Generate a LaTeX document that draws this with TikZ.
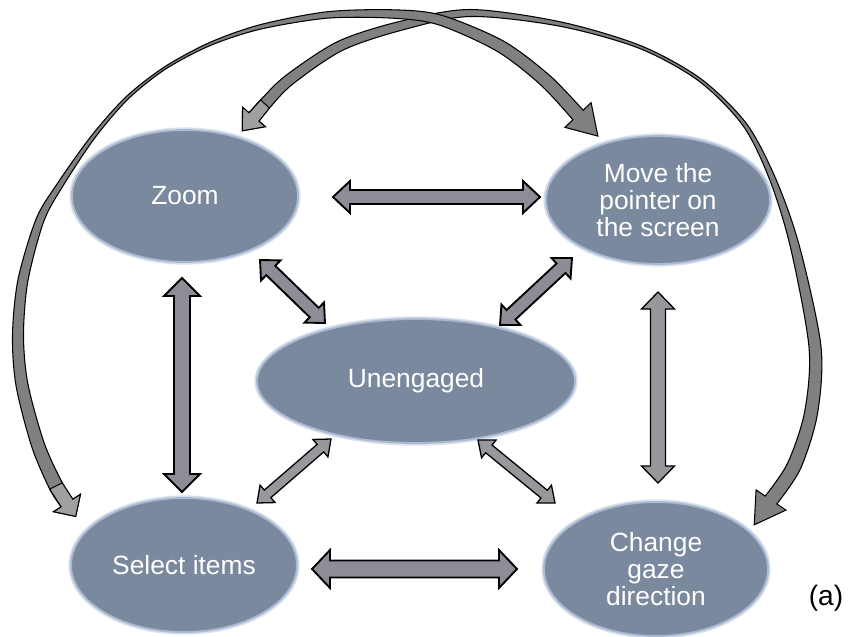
\documentclass[tikz,border=0pt]{standalone}
\usepackage{fontspec}
\setmainfont{Liberation Sans}
\usetikzlibrary{calc,shapes.geometric}
\definecolor{ellfill}{RGB}{123,137,158}
\definecolor{ellrim}{RGB}{170,186,210}
\definecolor{ribfill}{RGB}{128,128,128}
\definecolor{ribhead}{RGB}{160,160,160}
\definecolor{arrfill}{RGB}{142,140,150}
\definecolor{arrlight}{RGB}{152,152,156}
% block double arrow between two named coordinates: #3 head length, #4 shaft half width, #5 head half width (px), #6 style
\newcommand\blockarr[6]{%
  \coordinate (ba-a) at ($(#1)!#3*0.03cm!(#2)$);
  \coordinate (ba-b) at ($(#2)!#3*0.03cm!(#1)$);
  \draw[#6] (#1) -- ($(ba-a)!#5*0.03cm!90:(#2)$) -- ($(ba-a)!#4*0.03cm!90:(#2)$)
    -- ($(ba-b)!#4*0.03cm!-90:(#1)$) -- ($(ba-b)!#5*0.03cm!-90:(#1)$) -- (#2)
    -- ($(ba-b)!#5*0.03cm!90:(#1)$) -- ($(ba-b)!#4*0.03cm!90:(#1)$)
    -- ($(ba-a)!#4*0.03cm!-90:(#2)$) -- ($(ba-a)!#5*0.03cm!-90:(#2)$) -- cycle;}
\begin{document}
\begin{tikzpicture}[x=0.03cm,y=-0.03cm,
  state/.style={ellipse, fill=ellfill, draw=ellrim, line width=1.6pt,
    preaction={draw=ellrim!45!white, line width=4.5pt},
    text=white, align=center, inner sep=0pt,
    font=\fontsize{22.5}{23}\selectfont},
  ribbon/.style={fill=ribfill, draw=black, line width=0.9pt, line join=miter},
  ribbonend/.style={fill=ribhead, draw=black, line width=0.9pt, line join=miter},
  blk/.style={fill=arrfill, draw=black, line width=1.6pt, line join=miter},
  blkthin/.style={fill=arrlight, draw=black, line width=1.1pt, line join=miter}]
\useasboundingbox (0,0) rectangle (853,636);

% ---------- states ----------
\node[state, minimum width=6.78cm, minimum height=3.96cm] (zoom) at (185,196) {Zoom};
\node[state, minimum width=6.72cm, minimum height=3.84cm] (move) at (658,200) {Move the\\pointer on\\the screen};
\node[state, minimum width=9.54cm, minimum height=3.72cm] (unen) at (416,381) {Unengaged};
\node[state, minimum width=6.78cm, minimum height=4.02cm] (sel) at (184,565) {Select items};
\node[state, minimum width=6.72cm, minimum height=4.02cm] (chg) at (656,569) {Change\\gaze\\direction};
\node[font=\fontsize{24}{28}\selectfont] (lbl) at (826,598) {(a)};

% ---------- curved ribbon: Select items <-> Move the pointer ----------
\foreach \i/\x/\y in {0/67/503,1/56/486,2/38/445,3/22/385,4/18/335,5/23/280,6/40/220,
  7/60/185,8/93/137,9/127/98,10/165/68,11/210/44,12/260/27,13/327/15,14/393/14,
  15/440/20,16/500/46,17/545/80,18/578/115}
  \coordinate (q\i) at (\x,\y);
\foreach \i/\w in {1/7,2/6.5,3/6,4/5.5,5/5,6/4,7/3,8/2,9/1.5,10/1.2,11/1.5,12/2.2,
  13/3.2,14/4.2,15/5,16/6,17/6.5}{
  \pgfmathtruncatemacro\iprev{\i-1}
  \pgfmathtruncatemacro\inext{\i+1}
  \coordinate (tmp) at ($(q\i)+(q\inext)-(q\iprev)$);
  \coordinate (qA\i) at ($(q\i)!\w*0.03cm!90:(tmp)$);
  \coordinate (qB\i) at ($(q\i)!\w*0.03cm!-90:(tmp)$);
}
\coordinate (qA0) at ($(q0)!7*0.03cm!90:(q1)$);
\coordinate (qB0) at ($(q0)!7*0.03cm!-90:(q1)$);
\coordinate (qhA0) at ($(q0)!16*0.03cm!90:(q1)$);
\coordinate (qhB0) at ($(q0)!16*0.03cm!-90:(q1)$);
\coordinate (qt0) at ($(q0)!16*0.03cm!180:(q1)$);
\coordinate (qA18) at ($(q18)!7*0.03cm!-90:(q17)$);
\coordinate (qB18) at ($(q18)!7*0.03cm!90:(q17)$);
\coordinate (qhA18) at ($(q18)!18*0.03cm!-90:(q17)$);
\coordinate (qhB18) at ($(q18)!18*0.03cm!90:(q17)$);
\coordinate (qt18) at ($(q18)!29*0.03cm!180:(q17)$);

% ---------- curved ribbon: Zoom <-> Change gaze direction ----------
\foreach \i/\x/\y in {0/254/117,1/265/104,2/289/80,3/340/46,4/400/26,5/470/13,6/560/24,
  7/640/47,8/700/80,9/745/125,10/773/180,11/795/247,12/815/347,13/811/413,14/794/466,15/771/500}
  \coordinate (p\i) at (\x,\y);
\foreach \i/\w in {1/6,2/5.5,3/5,4/4.5,5/3.5,6/2.2,7/1.5,8/1.5,9/2,10/3,11/4.5,12/6,13/6.5,14/7}{
  \pgfmathtruncatemacro\iprev{\i-1}
  \pgfmathtruncatemacro\inext{\i+1}
  \coordinate (tmp) at ($(p\i)+(p\inext)-(p\iprev)$);
  \coordinate (pA\i) at ($(p\i)!\w*0.03cm!90:(tmp)$);
  \coordinate (pB\i) at ($(p\i)!\w*0.03cm!-90:(tmp)$);
}
\coordinate (pA0) at ($(p0)!6.5*0.03cm!90:(p1)$);
\coordinate (pB0) at ($(p0)!6.5*0.03cm!-90:(p1)$);
\coordinate (phA0) at ($(p0)!15*0.03cm!90:(p1)$);
\coordinate (phB0) at ($(p0)!15*0.03cm!-90:(p1)$);
\coordinate (pt0) at ($(p0)!18*0.03cm!180:(p1)$);
\coordinate (pA15) at ($(p15)!7*0.03cm!-90:(p14)$);
\coordinate (pB15) at ($(p15)!7*0.03cm!90:(p14)$);
\coordinate (phA15) at ($(p15)!18*0.03cm!-90:(p14)$);
\coordinate (phB15) at ($(p15)!18*0.03cm!90:(p14)$);
\coordinate (pt15) at ($(p15)!30*0.03cm!180:(p14)$);

\draw[ribbon] (pt0) -- (phA0) -- (pA0)
  -- plot[smooth] coordinates {(pA0)(pA1)(pA2)(pA3)(pA4)(pA5)(pA6)(pA7)(pA8)(pA9)(pA10)(pA11)(pA12)(pA13)(pA14)(pA15)}
  -- (phA15) -- (pt15) -- (phB15) -- (pB15)
  -- plot[smooth] coordinates {(pB15)(pB14)(pB13)(pB12)(pB11)(pB10)(pB9)(pB8)(pB7)(pB6)(pB5)(pB4)(pB3)(pB2)(pB1)(pB0)}
  -- (phB0) -- cycle;
\draw[ribbonend] (pA1) -- (pA0) -- (phA0) -- (pt0) -- (phB0) -- (pB0) -- (pB1) -- cycle;

\draw[ribbon] (qt0) -- (qhA0) -- (qA0)
  -- plot[smooth] coordinates {(qA0)(qA1)(qA2)(qA3)(qA4)(qA5)(qA6)(qA7)(qA8)(qA9)(qA10)(qA11)(qA12)(qA13)(qA14)(qA15)(qA16)(qA17)(qA18)}
  -- (qhA18) -- (qt18) -- (qhB18) -- (qB18)
  -- plot[smooth] coordinates {(qB18)(qB17)(qB16)(qB15)(qB14)(qB13)(qB12)(qB11)(qB10)(qB9)(qB8)(qB7)(qB6)(qB5)(qB4)(qB3)(qB2)(qB1)(qB0)}
  -- (qhB0) -- cycle;
\draw[ribbonend] (qA1) -- (qA0) -- (qhA0) -- (qt0) -- (qhB0) -- (qB0) -- (qB1) -- cycle;

% ---------- straight double arrows ----------
\coordinate (zm-a) at (333,197);  \coordinate (zm-b) at (540,197);
\coordinate (sc-a) at (312,569);  \coordinate (sc-b) at (517,569);
\coordinate (zs-a) at (182,278);  \coordinate (zs-b) at (182,492);
\coordinate (mc-a) at (658,292);  \coordinate (mc-b) at (658,483);
\coordinate (zu-a) at (260,260);  \coordinate (zu-b) at (325,323);
\coordinate (mu-a) at (572,258);  \coordinate (mu-b) at (500,325);
\coordinate (us-a) at (331,439);  \coordinate (us-b) at (257,503);
\coordinate (uc-a) at (478,440);  \coordinate (uc-b) at (555,503);

\blockarr{zm-a}{zm-b}{17}{7}{16}{blk}
\blockarr{sc-a}{sc-b}{18}{8.5}{19}{blk}
\blockarr{zs-a}{zs-b}{18}{8}{18}{blk}
\blockarr{mc-a}{mc-b}{17}{7.5}{16.5}{blkthin}
\blockarr{zu-a}{zu-b}{15}{6.5}{14}{blk}
\blockarr{mu-a}{mu-b}{15}{6.5}{14}{blk}
\blockarr{us-a}{us-b}{14}{5}{11.5}{blkthin}
\blockarr{uc-a}{uc-b}{14}{5}{11.5}{blkthin}
\end{tikzpicture}
\end{document}
